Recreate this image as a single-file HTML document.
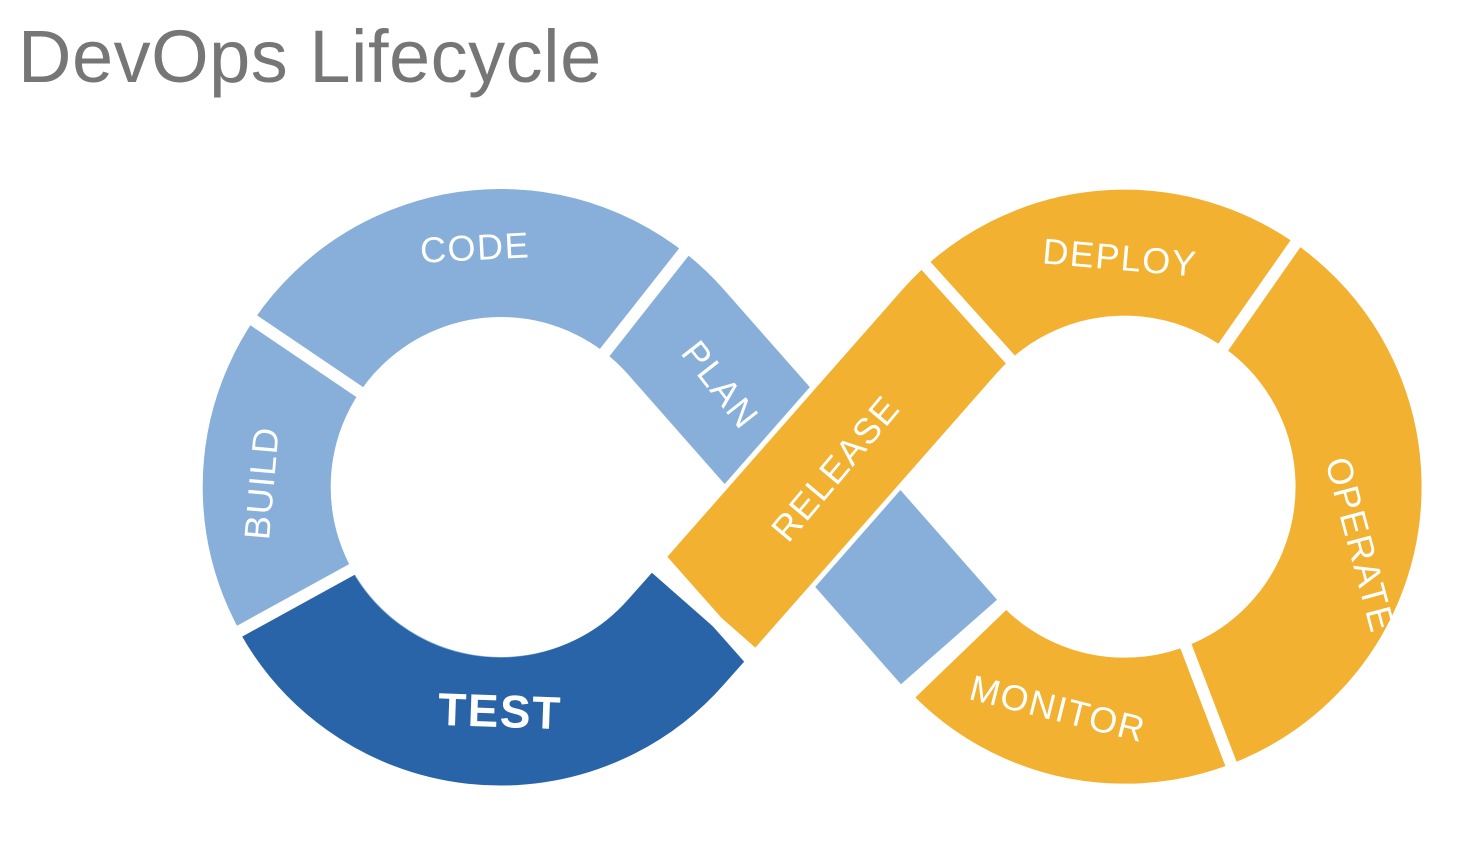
<!DOCTYPE html>
<html><head><meta charset="utf-8"><style>
html,body{margin:0;padding:0;background:#fff;}
body{width:1465px;height:853px;overflow:hidden;position:relative;font-family:"Liberation Sans",sans-serif;}
.t{position:absolute;left:18px;top:14px;font-size:74px;color:#767676;letter-spacing:0.5px;}
svg{position:absolute;left:0;top:0;}
text{font-family:"Liberation Sans",sans-serif;fill:#fff;font-size:34px;letter-spacing:1.5px;font-weight:bold;}
</style></head><body>
<div class="t">DevOps Lifecycle</div>
<svg width="1465" height="853" viewBox="0 0 1465 853">
<g fill="none" stroke-linecap="butt">
  <path d="M949,642 L676,332 A234,234 0 1 0 676,642" stroke="#87AFD9" stroke-width="128"/>
  <path d="M295,600 A234,234 0 0 0 676,642 L708,606" stroke="#2964A8" stroke-width="128"/>
  <path d="M700,615 L955,325" stroke="#fff" stroke-width="136"/>
  <path d="M708,606 L949,332 A234,234 0 1 1 957,650" stroke="#F2B130" stroke-width="126"/>
</g>
<g stroke="#fff" stroke-width="12">
  <line x1="598" y1="361" x2="691" y2="243"/>
  <line x1="367" y1="397" x2="243" y2="313"/>
  <line x1="360" y1="565" x2="229" y2="637"/>
  <line x1="656" y1="553" x2="756" y2="666"/>
  <line x1="1018" y1="368" x2="918" y2="257"/>
  <line x1="1217" y1="356" x2="1303" y2="233"/>
  <line x1="1182" y1="636" x2="1236" y2="777"/>
  <line x1="1010" y1="598" x2="902" y2="702"/>
</g>
<text x="475" y="260" text-anchor="middle" style="font-weight:normal;font-size:36px" transform="rotate(-3 475 248)">CODE</text>
<text x="720" y="397" text-anchor="middle" style="font-weight:normal;font-size:36px" transform="rotate(52 720 385)">PLAN</text>
<text x="262" y="495" text-anchor="middle" style="font-weight:normal;font-size:36px" transform="rotate(-85 262 483)">BUILD</text>
<text x="500" y="727" text-anchor="middle" style="font-size:46px" transform="rotate(2 500 710)">TEST</text>
<text x="835" y="481" text-anchor="middle" style="font-weight:normal;font-size:36px" transform="rotate(-50 835 468)">RELEASE</text>
<text x="1120" y="270" text-anchor="middle" style="font-weight:normal;font-size:36px" transform="rotate(5 1120 257)">DEPLOY</text>
<text x="1360" y="557" text-anchor="middle" style="font-weight:normal;font-size:36px" transform="rotate(75 1360 545)">OPERATE</text>
<text x="1058" y="721" text-anchor="middle" style="font-weight:normal;font-size:36px" transform="rotate(14 1058 708)">MONITOR</text>
</svg>
</body></html>
